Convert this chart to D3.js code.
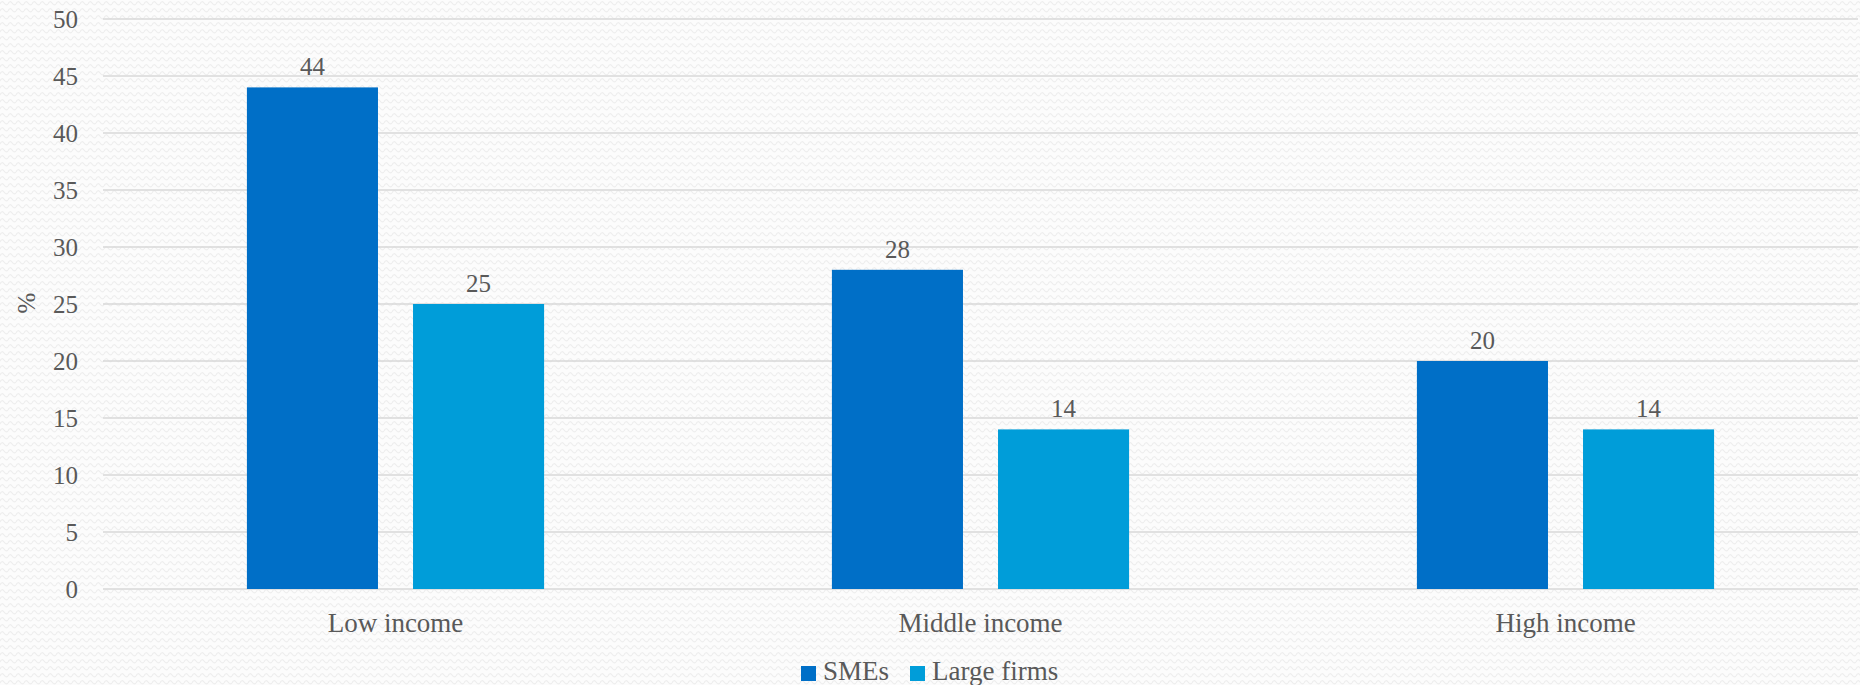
<!DOCTYPE html>
<html>
<head>
<meta charset="utf-8">
<script src="https://cdn.jsdelivr.net/npm/d3@7"></script>
<style>
  html, body { margin: 0; padding: 0; background: #fbfbfb; }
  text { font-family: "Liberation Serif", "DejaVu Serif", serif; fill: #595959; }
</style>
</head>
<body>
<div id="chart"></div>
<script>
// Clustered bars - SMEs vs large firms by income group
(() => {

const categories = ["Low income", "Middle income", "High income"];
const seriesNames = ["SMEs", "Large firms"];
const smeValues = [44, 28, 20];
const largeValues = [25, 14, 14];
const yTicks = [0, 5, 10, 15, 20, 25, 30, 35, 40, 45, 50];
const colors = ["#006fc7", "#009dd9"];

const W = 1860, H = 685;
const margin = { top: 19, right: 2, bottom: 96, left: 103 },
      width = W - margin.left - margin.right,
      height = H - margin.top - margin.bottom;

const svg = d3.select("#chart")
  .append("svg")
  .attr("width", W)
  .attr("height", H);

// wavy background texture
const pat = svg.append("defs").append("pattern")
  .attr("id", "wave")
  .attr("patternUnits", "userSpaceOnUse")
  .attr("width", 8)
  .attr("height", 7);
pat.append("rect").attr("width", 8).attr("height", 7).attr("fill", "#fcfcfc");
pat.append("path")
  .attr("d", "M0,4 Q2,0 4,3 T8,4")
  .attr("fill", "none")
  .attr("stroke", "#eeeeee")
  .attr("stroke-width", 1.2);

svg.append("rect").attr("width", W).attr("height", H).attr("fill", "url(#wave)");

const chart = svg.append("g")
  .attr("transform", `translate(${margin.left},${margin.top})`);

const data = categories.map((c, i) => ({ cat: c, values: [smeValues[i], largeValues[i]] }));

// Scales
const x0 = d3.scaleBand()
  .domain(categories)
  .range([0, width])
  .paddingInner(0.492)
  .paddingOuter(0.246);

const x1 = d3.scaleBand()
  .domain(seriesNames)
  .range([0, x0.bandwidth()])
  .paddingInner(0.211);

const y = d3.scaleLinear()
  .domain([0, 50])
  .range([height, 0]);

// Gridlines
chart.append("g")
  .selectAll("line")
  .data(yTicks)
  .join("line")
  .attr("x1", 0)
  .attr("x2", width)
  .attr("y1", d => y(d))
  .attr("y2", d => y(d))
  .attr("stroke", "#d9d9d9")
  .attr("stroke-width", 1.5);

// Y axis labels
const yAxis = chart.append("g")
  .call(d3.axisLeft(y).tickValues(yTicks).tickSize(0).tickPadding(25));
yAxis.select(".domain").remove();
yAxis.selectAll("text")
  .attr("font-family", "Liberation Serif, serif")
  .attr("font-size", 25)
  .attr("fill", "#595959");

// Y label
svg.append("text")
  .attr("transform", "translate(35,303) rotate(-90)")
  .attr("text-anchor", "middle")
  .attr("font-size", 25)
  .text("%");

// Bars
const groups = chart.append("g")
  .selectAll("g")
  .data(data)
  .join("g")
  .attr("transform", d => `translate(${x0(d.cat)},0)`);

groups.selectAll("rect")
  .data(d => d.values.map((v, i) => ({ name: seriesNames[i], value: v, i })))
  .join("rect")
  .attr("x", d => x1(d.name))
  .attr("y", d => y(d.value))
  .attr("width", x1.bandwidth())
  .attr("height", d => y(0) - y(d.value))
  .attr("fill", d => colors[d.i]);

groups.selectAll("text")
  .data(d => d.values.map((v, i) => ({ name: seriesNames[i], value: v })))
  .join("text")
  .attr("x", d => x1(d.name) + x1.bandwidth() / 2)
  .attr("y", d => y(d.value) - 12)
  .attr("text-anchor", "middle")
  .attr("font-size", 25)
  .text(d => d.value);

// X axis labels
const xAxis = chart.append("g")
  .attr("transform", `translate(0,${height})`)
  .call(d3.axisBottom(x0).tickSize(0).tickPadding(24));
xAxis.select(".domain").remove();
xAxis.selectAll("text")
  .attr("font-family", "Liberation Serif, serif")
  .attr("font-size", 27)
  .attr("fill", "#595959");

// Legend
const legendX = [801, 910];
const legend = svg.append("g")
  .selectAll("g")
  .data(seriesNames)
  .join("g")
  .attr("transform", (d, i) => `translate(${legendX[i]},666)`);

legend.append("rect")
  .attr("width", 15)
  .attr("height", 15)
  .attr("fill", (d, i) => colors[i]);

legend.append("text")
  .attr("x", 22)
  .attr("y", 14)
  .attr("font-size", 27)
  .text(d => d);

})();
</script>
</body>
</html>
